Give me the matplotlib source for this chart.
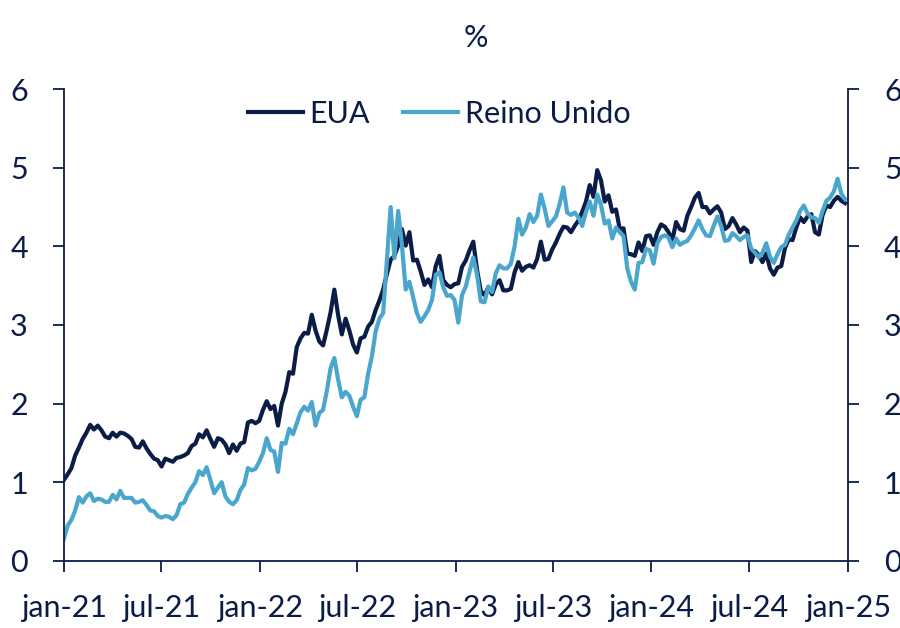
import pandas as pd
import matplotlib
matplotlib.use('Agg')
import matplotlib.pyplot as plt

# ==============================================================================
# DADOS - yields a 10 anos (%), observações semanais
# ==============================================================================
inicio = '2021-01-01'

eua = [
    1.03, 1.10, 1.18, 1.34, 1.44, 1.55, 1.63, 1.73, 1.67, 1.72, 1.66, 1.58, 1.56, 1.63, 1.58, 1.63,
    1.62, 1.59, 1.55, 1.45, 1.44, 1.52, 1.43, 1.36, 1.30, 1.28, 1.20, 1.30, 1.28, 1.26, 1.31, 1.32,
    1.34, 1.37, 1.46, 1.49, 1.61, 1.57, 1.66, 1.55, 1.45, 1.56, 1.54, 1.48, 1.37, 1.48, 1.40, 1.49,
    1.51, 1.76, 1.78, 1.75, 1.78, 1.92, 2.03, 1.93, 1.97, 1.72, 2.00, 2.15, 2.40, 2.38, 2.72, 2.83,
    2.90, 2.89, 3.13, 2.93, 2.79, 2.74, 2.94, 3.16, 3.45, 3.13, 2.88, 3.08, 2.93, 2.75, 2.65, 2.83,
    2.85, 2.98, 3.04, 3.19, 3.31, 3.45, 3.65, 3.83, 3.88, 4.01, 4.22, 4.01, 4.18, 3.82, 3.83, 3.68,
    3.51, 3.58, 3.48, 3.75, 3.88, 3.57, 3.51, 3.48, 3.52, 3.53, 3.74, 3.82, 3.95, 4.06, 3.70, 3.43,
    3.38, 3.48, 3.39, 3.52, 3.57, 3.44, 3.44, 3.46, 3.67, 3.80, 3.69, 3.74, 3.76, 3.73, 3.84, 4.06,
    3.83, 3.84, 3.96, 4.05, 4.16, 4.25, 4.24, 4.18, 4.26, 4.33, 4.44, 4.57, 4.78, 4.63, 4.97, 4.84,
    4.57, 4.65, 4.44, 4.47, 4.22, 4.23, 3.91, 3.90, 3.88, 4.05, 3.94, 4.13, 4.14, 4.02, 4.18, 4.28,
    4.25, 4.18, 4.08, 4.31, 4.22, 4.20, 4.39, 4.50, 4.62, 4.68, 4.50, 4.50, 4.42, 4.47, 4.51, 4.43,
    4.22, 4.26, 4.36, 4.28, 4.18, 4.24, 4.20, 3.80, 3.94, 3.89, 3.80, 3.91, 3.72, 3.64, 3.73, 3.75,
    3.98, 4.09, 4.08, 4.24, 4.37, 4.31, 4.38, 4.41, 4.18, 4.15, 4.40, 4.52, 4.50, 4.58, 4.63, 4.58,
    4.55,
]

reino_unido = [
    0.28, 0.45, 0.52, 0.64, 0.81, 0.74, 0.82, 0.86, 0.76, 0.79, 0.78, 0.75, 0.75, 0.84, 0.78, 0.89,
    0.80, 0.80, 0.80, 0.74, 0.75, 0.77, 0.71, 0.64, 0.63, 0.57, 0.55, 0.57, 0.56, 0.53, 0.58, 0.72,
    0.74, 0.85, 0.93, 1.00, 1.14, 1.09, 1.19, 1.03, 0.86, 0.93, 1.00, 0.82, 0.75, 0.72, 0.77, 0.90,
    0.97, 1.18, 1.15, 1.17, 1.26, 1.37, 1.56, 1.41, 1.39, 1.13, 1.50, 1.49, 1.68, 1.61, 1.75, 1.89,
    1.96, 1.91, 2.02, 1.72, 1.88, 1.92, 2.16, 2.45, 2.58, 2.31, 2.08, 2.15, 2.10, 1.96, 1.84, 2.05,
    2.08, 2.38, 2.60, 2.92, 3.08, 3.15, 3.82, 4.50, 3.85, 4.45, 4.02, 3.45, 3.55, 3.35, 3.15, 3.04,
    3.11, 3.19, 3.32, 3.64, 3.67, 3.48, 3.37, 3.38, 3.32, 3.03, 3.38, 3.49, 3.68, 3.86, 3.64, 3.30,
    3.29, 3.49, 3.42, 3.66, 3.76, 3.72, 3.72, 3.78, 4.00, 4.35, 4.15, 4.24, 4.41, 4.31, 4.39, 4.66,
    4.48, 4.26, 4.32, 4.38, 4.54, 4.75, 4.43, 4.40, 4.43, 4.37, 4.26, 4.44, 4.57, 4.39, 4.66, 4.53,
    4.29, 4.33, 4.10, 4.24, 4.18, 4.13, 3.72, 3.55, 3.45, 3.79, 3.80, 3.97, 3.95, 3.78, 4.04, 4.12,
    4.14, 4.11, 3.99, 4.10, 4.02, 4.05, 4.07, 4.14, 4.23, 4.33, 4.22, 4.14, 4.13, 4.26, 4.38, 4.26,
    4.07, 4.08, 4.17, 4.13, 4.08, 4.12, 4.14, 3.97, 3.92, 3.86, 3.92, 4.04, 3.87, 3.79, 3.90, 3.99,
    4.02, 4.15, 4.24, 4.33, 4.45, 4.52, 4.42, 4.37, 4.36, 4.30, 4.45, 4.58, 4.62, 4.70, 4.86, 4.67,
    4.60,
]

tick_datas = ['2021-01-01', '2021-07-01', '2022-01-01', '2022-07-01', '2023-01-01',
              '2023-07-01', '2024-01-01', '2024-07-01', '2025-01-01']
tick_rotulos = ['jan-21', 'jul-21', 'jan-22', 'jul-22', 'jan-23',
                'jul-23', 'jan-24', 'jul-24', 'jan-25']
y_ticks = [0, 1, 2, 3, 4, 5, 6]

AZUL_ESCURO = '#0b1c47'
AZUL_CLARO = '#4aa6cc'
FONTE = 22


def plotar(caminho_saida):
    datas = pd.date_range(inicio, periods=len(eua), freq='7D')

    plt.rcParams['font.family'] = ['Lato', 'DejaVu Sans']
    fig = plt.figure(figsize=(9, 6.28), dpi=100)
    ax = fig.add_axes([0.071, 0.107, 0.871, 0.751])

    ax.plot(datas, eua, color=AZUL_ESCURO, lw=3.0, label='EUA')
    ax.plot(datas, reino_unido, color=AZUL_CLARO, lw=3.0, label='Reino Unido')

    ax.set_xlim(pd.Timestamp(tick_datas[0]), pd.Timestamp(tick_datas[-1]))
    ax.set_ylim(0, 6)
    ax.set_xticks(pd.to_datetime(tick_datas))
    ax.set_xticklabels(tick_rotulos)
    ax.set_yticks(y_ticks)

    for lado in ['left', 'right', 'bottom']:
        ax.spines[lado].set_color(AZUL_ESCURO)
        ax.spines[lado].set_linewidth(1.3)
    ax.spines['top'].set_visible(False)

    ax.yaxis.set_ticks_position('both')
    ax.tick_params(axis='y', labelright=True, length=8, width=1.3, pad=18,
                   colors=AZUL_ESCURO, labelsize=FONTE)
    ax.tick_params(axis='x', length=8, width=1.3, pad=16,
                   colors=AZUL_ESCURO, labelsize=FONTE)

    leg = ax.legend(loc='upper center', bbox_to_anchor=(0.488, 0.885), bbox_transform=fig.transFigure,
                    ncol=2, frameon=False, fontsize=FONTE, handlelength=1.8,
                    handletextpad=0.2, columnspacing=1.1)
    for txt in leg.get_texts():
        txt.set_color(AZUL_ESCURO)

    fig.text(0.529, 0.94, '%', ha='center', va='center', fontsize=FONTE, color=AZUL_ESCURO)

    fig.savefig(caminho_saida, dpi=100)
    plt.close(fig)


if __name__ == '__main__':
    plotar('out.png')
